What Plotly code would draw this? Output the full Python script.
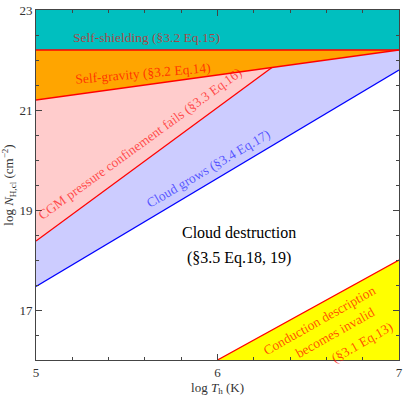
import plotly.graph_objects as go

# boundaries, log T_h (K) vs log N_H,cl (cm^-2)
t_edges = [5, 7]
n_top = 23
n_bottom = 16
shield_n = 22.2
gravity_n = [21.2, 22.2]
cgm_t = [5, 6.3]
cgm_n = [18.38, 21.85]
grow_t = [5, 7]
grow_n = [17.47, 21.8]
cond_t = [6, 7]
cond_n = [16, 18]

font = "'Liberation Serif', 'DejaVu Serif', serif"

fig = go.Figure()


def region(xs, ys, color):
    fig.add_trace(go.Scatter(x=xs, y=ys, fill="toself", fillcolor=color,
                             mode="none", hoverinfo="skip", showlegend=False))


def line(xs, ys, color):
    fig.add_trace(go.Scatter(x=xs, y=ys, mode="lines", line=dict(color=color, width=1.3),
                             hoverinfo="skip", showlegend=False))


region([t_edges[0], t_edges[1], t_edges[1], t_edges[0]],
       [shield_n, shield_n, n_top, n_top], "#00BFBF")
region([t_edges[0], t_edges[1], t_edges[0]],
       [gravity_n[0], gravity_n[1], shield_n], "#FFA500")
region([cgm_t[0], cgm_t[1], t_edges[0]],
       [cgm_n[0], cgm_n[1], gravity_n[0]], "#FFCCCC")
region([grow_t[0], grow_t[1], t_edges[1], cgm_t[1], cgm_t[0]],
       [grow_n[0], grow_n[1], gravity_n[1], cgm_n[1], cgm_n[0]], "#CCCCFF")
region([cond_t[0], cond_t[1], cond_t[1]],
       [cond_n[0], cond_n[1], n_bottom], "#FFFF00")

line(t_edges, [shield_n, shield_n], "#FF0000")
line(t_edges, gravity_n, "#FF0000")
line(cgm_t, cgm_n, "#FF0000")
line(grow_t, grow_n, "#0000FF")
line(cond_t, cond_n, "#FF0000")

labels = [
    (5.61, 22.45, "Self-shielding (§3.2 Eq.15)", 0, "rgba(255,0,0,0.65)", 13.5),
    (5.587, 21.74, "Self-gravity (§3.2 Eq.14)", -5, "rgba(255,0,0,0.7)", 13.5),
    (5.575, 20.33, "CGM pressure confinement fails (§3.3 Eq.16)", -36, "rgba(255,0,0,0.65)", 13.5),
    (5.95, 19.83, "Cloud grows (§3.4 Eq.17)", -30.5, "rgba(0,0,255,0.6)", 13.5),
    (6.12, 18.56, "Cloud destruction", 0, "#000000", 16),
    (6.12, 18.04, "(§3.5 Eq.18, 19)", 0, "#000000", 16),
    (6.56, 16.80, "Conduction description", -29.5, "rgba(255,0,0,0.7)", 13.5),
    (6.65, 16.55, "becomes invalid", -29.5, "rgba(255,0,0,0.7)", 13.5),
    (6.795, 16.36, "(§3.1 Eq.13)", -29.5, "rgba(255,0,0,0.7)", 13.5),
]
for x, y, text, ang, col, size in labels:
    fig.add_annotation(x=x, y=y, text=text, textangle=ang, showarrow=False,
                       xanchor="center", yanchor="middle",
                       font=dict(family=font, size=size, color=col))

axis_common = dict(showgrid=False, zeroline=False, showline=True, linecolor="#444",
                   linewidth=1, mirror="ticks", ticks="inside", ticklen=6,
                   tickcolor="#444", automargin=False,
                   tickfont=dict(family=font, size=13, color="#333"))

fig.update_xaxes(range=t_edges, tickvals=[5, 6, 7],
                 minor=dict(dtick=0.2, ticks="inside", ticklen=3, tickcolor="#444"),
                 title=dict(text="log <i>T</i><sub>h</sub> (K)", standoff=0,
                            font=dict(family=font, size=13, color="#333")),
                 **axis_common)
fig.update_yaxes(range=[n_bottom, n_top], tickvals=[17, 19, 21, 23],
                 minor=dict(dtick=0.5, ticks="inside", ticklen=3, tickcolor="#444"),
                 title=dict(text="log <i>N</i><sub>H,cl</sub> (cm<sup>−2</sup>)", standoff=2,
                            font=dict(family=font, size=13, color="#333")),
                 **axis_common)

fig.update_layout(width=407, height=397, margin=dict(l=36, r=8, t=10, b=37),
                  plot_bgcolor="white", paper_bgcolor="white")

fig.write_html("out.html", config={"displayModeBar": False},
               post_script="document.body.style.margin='0';")
